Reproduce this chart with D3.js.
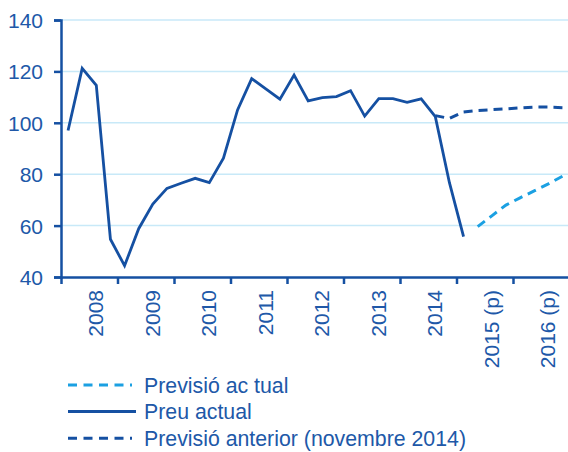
<!DOCTYPE html>
<html>
<head>
<meta charset="utf-8">
<script src="https://cdn.jsdelivr.net/npm/d3@7"></script>
<style>
  body { margin: 0; background: #fff; }
  svg { display: block; font-family: "Liberation Sans", Arial, sans-serif; }
</style>
</head>
<body>
<div id="chart"></div>
<script>
// years on the x axis (each one has 4 quarters)
var years = ["2008", "2009", "2010", "2011", "2012", "2013", "2014", "2015 (p)", "2016 (p)"];

// quarterly values, index 0 = 2008 Q1
var preuActual = [97, 121.2, 114.6, 54.7,
                  44.4, 58.8, 68.4, 74.5,
                  76.5, 78.4, 76.7, 86.2,
                  105, 117.2, 113.2, 109.2,
                  118.6, 108.5, 109.8, 110.2,
                  112.5, 102.6, 109.4, 109.4,
                  108, 109.3, 102.4, 76.7,
                  55.7];

// forecasts start at a later quarter
var previsioActualStart = 29;
var previsioActual = [59.6, 63.8, 68, 70.8, 73.5, 76.2, 79.2];

var previsioAnteriorStart = 26;
var previsioAnterior = [102.8, 101.7, 104.2, 104.8, 105.1, 105.4, 105.8, 106.1, 106.1, 105.9];

var yTicks = [40, 60, 80, 100, 120, 140];

var legendLabels = ["Previsió ac tual", "Preu actual", "Previsió anterior (novembre 2014)"];

// colours
var darkBlue = "#1550a2",
    lightBlue = "#1ba0e2",
    gridColor = "#c8e9f8",
    textColor = "#2058a8";

var W = 568, H = 452;
var margin = {top: 20, left: 61},
    plotW = 508.5,
    plotH = 257;

var svg = d3.select("#chart").append("svg")
    .attr("width", W)
    .attr("height", H);

var g = svg.append("g")
    .attr("transform", "translate(" + margin.left + "," + margin.top + ")");

// quarter scale: 36 quarters, points sit in the middle of each quarter
var x = d3.scaleLinear().domain([0, years.length * 4]).range([0, plotW]);
var xYear = d3.scaleBand().domain(years).range([0, plotW]);
var y = d3.scaleLinear().domain([40, 140]).range([plotH, 0]);

// horizontal grid
g.selectAll(".grid")
  .data(yTicks.filter(function(d) { return d > 40; }))
  .enter().append("line")
    .attr("x1", 0)
    .attr("x2", plotW)
    .attr("y1", function(d) { return y(d); })
    .attr("y2", function(d) { return y(d); })
    .attr("stroke", gridColor)
    .attr("stroke-width", 1.5);

// lines
var line = d3.line()
  .x(function(d) { return x(d.i + 0.5); })
  .y(function(d) { return y(d.v); });

function toPoints(arr, start) {
  return arr.map(function(v, k) { return {i: start + k, v: v}; });
}

g.append("path")
  .attr("d", line(toPoints(previsioAnterior, previsioAnteriorStart)))
  .attr("fill", "none")
  .attr("stroke", darkBlue)
  .attr("stroke-width", 3)
  .attr("stroke-dasharray", "9,6");

g.append("path")
  .attr("d", line(toPoints(previsioActual, previsioActualStart)))
  .attr("fill", "none")
  .attr("stroke", lightBlue)
  .attr("stroke-width", 3)
  .attr("stroke-dasharray", "9,6");

g.append("path")
  .attr("d", line(toPoints(preuActual, 0)))
  .attr("fill", "none")
  .attr("stroke", darkBlue)
  .attr("stroke-width", 2.8)
  .attr("stroke-linejoin", "miter");

// y axis
var yAxis = g.append("g")
  .call(d3.axisLeft(y).tickValues(yTicks).tickSize(7).tickPadding(11));
yAxis.select(".domain").attr("stroke", darkBlue).attr("stroke-width", 2.5);
yAxis.selectAll(".tick line").attr("stroke", darkBlue).attr("stroke-width", 2.5);
yAxis.selectAll(".tick text")
  .attr("fill", textColor)
  .style("font-size", "21px")
  .attr("dy", "0.36em");

// x axis (ticks between years, labels drawn separately)
var xAxis = g.append("g")
  .attr("transform", "translate(0," + plotH + ")")
  .call(d3.axisBottom(x)
    .tickValues(d3.range(0, years.length * 4 + 1, 4))
    .tickSize(7)
    .tickSizeOuter(0)
    .tickFormat(""));
xAxis.select(".domain").attr("stroke", darkBlue).attr("stroke-width", 2.5);
xAxis.selectAll(".tick line").attr("stroke", darkBlue).attr("stroke-width", 2.5);

// rotated year labels
g.selectAll(".yearLabel")
  .data(years)
  .enter().append("text")
    .attr("transform", function(d) {
      return "translate(" + (xYear(d) + xYear.bandwidth() / 2 + 14) + "," + (plotH + 13) + ") rotate(-90)";
    })
    .attr("text-anchor", "end")
    .attr("fill", textColor)
    .style("font-size", "21px")
    .text(function(d) { return d; });

// legend
var legendStyles = [
  {color: lightBlue, dash: "9,6.5", width: 64},
  {color: darkBlue, dash: null, width: 68},
  {color: darkBlue, dash: "9,6.5", width: 64}
];

var legend = svg.append("g").attr("transform", "translate(68,385)");

legendLabels.forEach(function(label, k) {
  var row = legend.append("g").attr("transform", "translate(0," + (k * 26.6) + ")");
  row.append("line")
    .attr("x1", 0)
    .attr("x2", legendStyles[k].width)
    .attr("y1", 0)
    .attr("y2", 0)
    .attr("stroke", legendStyles[k].color)
    .attr("stroke-width", 3)
    .attr("stroke-dasharray", legendStyles[k].dash);
  row.append("text")
    .attr("x", 76)
    .attr("y", 0)
    .attr("dy", "0.36em")
    .attr("fill", textColor)
    .style("font-size", "21.3px")
    .text(label);
});
</script>
</body>
</html>
